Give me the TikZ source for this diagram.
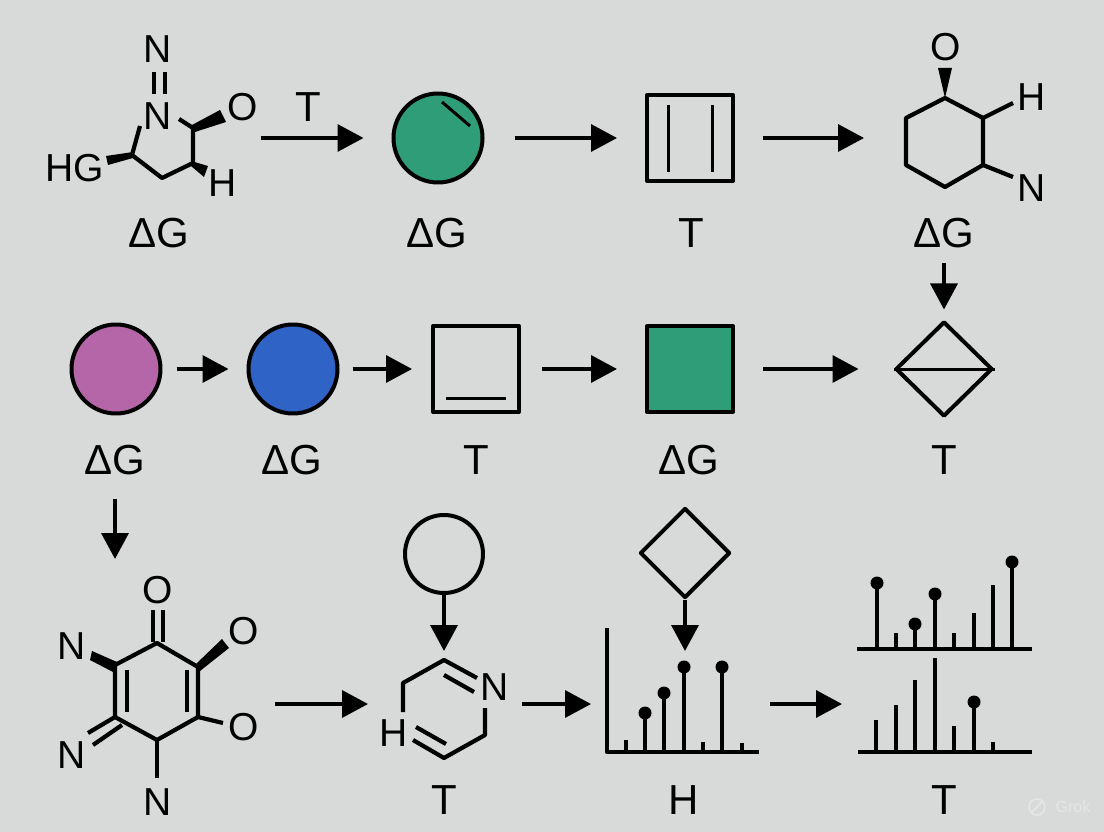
\documentclass[tikz,border=0pt]{standalone}
\usepackage{fontspec}
\setmainfont{Liberation Sans}
\usetikzlibrary{arrows.meta,shapes.geometric}
\definecolor{paper}{HTML}{D8DADA}
\definecolor{molgreen}{HTML}{2F9E78}
\definecolor{molpurple}{HTML}{B566A8}
\definecolor{molblue}{HTML}{2F63C5}
\definecolor{grokgray}{HTML}{E5E7E7}

\begin{document}
\begin{tikzpicture}[x=1pt,y=-1pt,line join=round]
            \useasboundingbox (0,0) rectangle (1104,832);
            \fill[paper] (0,0) rectangle (1104,832);

            \begin{scope}[every node/.style={inner sep=0pt,font=\fontsize{42}{42}\selectfont}]
                \node (lblA) at (159,233) {ΔG};
                \node (lblB) at (437,233) {ΔG};
                \node (lblC) at (691,233) {T};
                \node (lblD) at (944,233) {ΔG};
                \node (lblE) at (115,460) {ΔG};
                \node (lblF) at (292,460) {ΔG};
                \node (lblG) at (476,460) {T};
                \node (lblH) at (689,460) {ΔG};
                \node (lblI) at (944,460) {T};
                \node (lblJ) at (444,800) {T};
                \node (lblK) at (684,800) {H};
                \node (lblL) at (944,800) {T};
                \node (lblArrow) at (308,107) {T};
            \end{scope}

            \begin{scope}[every node/.style={draw,line width=4pt,inner sep=0pt}]
                \node (cGreen) [circle,fill=molgreen,minimum size=89pt] at (438,138) {};
                \node (sqLines) [minimum size=86pt] at (690,138) {};
                \node (cPurple) [circle,fill=molpurple,minimum size=89pt] at (116,369) {};
                \node (cBlue) [circle,fill=molblue,minimum size=89pt] at (293,369) {};
                \node (sqOpen) [minimum size=86pt] at (476,369) {};
                \node (sqGreen) [fill=molgreen,minimum size=86pt] at (690,369) {};
                \node (diaLine) [diamond,minimum width=97pt,minimum height=95pt] at (944,369) {};
                \node (cWhite) [circle,minimum size=78pt] at (444,554) {};
                \node (diaWhite) [diamond,minimum width=90pt,minimum height=90pt] at (685,553) {};
            \end{scope}

            % free ends of the arrows
            \coordinate (molAout) at (261,138);
            \coordinate (molDin) at (864,138);
            \coordinate (molEin) at (115,559);
            \coordinate (molEout) at (275,704);
            \coordinate (molFin) at (368,704);
            \coordinate (molFtop) at (444,651);
            \coordinate (molFout) at (522,704);
            \coordinate (chartIn) at (591,704);
            \coordinate (chartTop) at (685,651);
            \coordinate (chartOut) at (770,704);
            \coordinate (chartsIn) at (842,704);

            \begin{scope}[every edge/.style={draw=black,line width=3.5pt,-{Triangle[length=26pt,width=27pt]}}]
                \path (molAout) edge[shorten >=28pt] (cGreen);
                \path (cGreen) edge[shorten <=30pt,shorten >=28pt] (sqLines);
                \path (sqLines) edge[shorten <=28pt] (molDin);
                \path (lblD) edge[shorten <=15pt,shorten >=10pt] (diaLine);
                \path (cPurple) edge[shorten <=14pt,shorten >=18pt] (cBlue);
                \path (cBlue) edge[shorten <=13pt,shorten >=19pt] (sqOpen);
                \path (sqOpen) edge[shorten <=21pt,shorten >=28pt] (sqGreen);
                \path (sqGreen) edge[shorten <=28pt,shorten >=35pt] (diaLine);
                \path (lblE) edge[shorten <=24pt] (molEin);
                \path (molEout) edge (molFin);
                \path (cWhite) edge (molFtop);
                \path (molFout) edge (chartIn);
                \path (diaWhite) edge (chartTop);
                \path (chartOut) edge (chartsIn);
            \end{scope}

            % inner lines of the shapes
            \draw[line width=3pt] (442,102) -- (470,126);
            \draw[line width=3pt] (668,105) -- (668,172);
            \draw[line width=3pt] (712,105) -- (712,172);
            \draw[line width=3pt] (446,398) -- (506,398);
            \draw[line width=3pt] (diaLine.west) -- (diaLine.east);

            \begin{scope}[every node/.style={inner sep=0pt,font=\fontsize{39}{39}\selectfont}]
                \node (aN1) at (158,49) {N};
                \node (aN2) at (158,116) {N};
                \node (aO) at (243,107) {O};
                \node (aHG) at (75,168) {HG};
                \node (aH) at (223,183) {H};
                \node (dO) at (946,47) {O};
                \node (dH) at (1032,97) {H};
                \node (dN) at (1032,188) {N};
                \node (eO1) at (158,590) {O};
                \node (eO2) at (244,631) {O};
                \node (eO3) at (244,727) {O};
                \node (eN1) at (72,646) {N};
                \node (eN2) at (72,755) {N};
                \node (eN3) at (158,802) {N};
                \node (fN) at (495,687) {N};
                \node (fH) at (394,733) {H};
            \end{scope}

            % rings
            \begin{scope}[line width=4.2pt]
                \draw (154,72) -- (154,94);
                \draw (165,72) -- (165,94);
                \draw (140,126) -- (132,155) -- (162,178) -- (193,163) -- (193,128) -- (179,119);
                \draw (945,98) -- (983,118) -- (983,165) -- (945,187) -- (906,165) -- (906,118) -- cycle;
                \draw (983,118) -- (1013,103);
                \draw (983,165) -- (1013,177);
                \draw (157,643) -- (198,667) -- (198,717) -- (157,740) -- (115,717) -- (115,665) -- cycle;
                \draw (153,610) -- (153,642);
                \draw (163,610) -- (163,642);
                \draw (127,670) -- (127,712);
                \draw (187,670) -- (187,712);
                \draw (198,717) -- (223,723);
                \draw (115,717) -- (88,733);
                \draw (122,725) -- (93,745);
                \draw (157,740) -- (157,778);
                \draw (477,678) -- (444,660) -- (403,683) -- (403,712);
                \draw (444,675) -- (474,692);
                \draw (413,740) -- (444,758) -- (485,735) -- (485,708);
                \draw (416,727) -- (446,744);
            \end{scope}

            % wedge bonds
            \fill (192,125) -- (220,110) -- (226,122) -- (195,132) -- cycle;
            \fill (133,152) -- (106,156) -- (108,165) -- (133,158) -- cycle;
            \fill (191,161) -- (208,166) -- (204,177) -- (191,166) -- cycle;
            \fill (945,98) -- (938,68) -- (952,68) -- cycle;
            \fill (196,664) -- (222,639) -- (229,648) -- (200,671) -- cycle;
            \fill (92,651) -- (90,660) -- (113,672) -- (117,662) -- cycle;

            % charts
            \begin{scope}[line width=4.5pt]
                \draw (607,628) -- (607,752) -- (759,752);
                \draw (626,752) -- (626,740);
                \draw (645,752) -- (645,713);
                \draw (664,752) -- (664,693);
                \draw (684,752) -- (684,667);
                \draw (703,752) -- (703,742);
                \draw (722,752) -- (722,667);
                \draw (742,752) -- (742,743);
                \draw (857,649) -- (1032,649);
                \draw (877,649) -- (877,583);
                \draw (896,649) -- (896,633);
                \draw (915,649) -- (915,624);
                \draw (935,649) -- (935,594);
                \draw (954,649) -- (954,633);
                \draw (974,649) -- (974,613);
                \draw (993,649) -- (993,585);
                \draw (1012,649) -- (1012,562);
                \draw (858,752) -- (1032,752);
                \draw (876,752) -- (876,720);
                \draw (896,752) -- (896,705);
                \draw (915,752) -- (915,680);
                \draw (935,752) -- (935,658);
                \draw (954,752) -- (954,726);
                \draw (974,752) -- (974,702);
                \draw (993,752) -- (993,742);
            \end{scope}
            \fill (645,713) circle (6.5pt);
            \fill (664,693) circle (6.5pt);
            \fill (684,667) circle (6.5pt);
            \fill (722,667) circle (6.5pt);
            \fill (877,583) circle (6.5pt);
            \fill (915,624) circle (6.5pt);
            \fill (935,594) circle (6.5pt);
            \fill (1012,562) circle (6.5pt);
            \fill (974,702) circle (6.5pt);

            \node (grokIcon) [circle,draw=grokgray,line width=1.5pt,minimum size=16pt,inner sep=0pt] at (1037,807) {};
            \draw[grokgray,line width=1.5pt] (grokIcon.south west) -- (grokIcon.north east);
            \node (grokMark) [text=grokgray,inner sep=0pt,font=\fontsize{16}{16}\selectfont] at (1073,807) {Grok};
        \end{tikzpicture}
\end{document}
